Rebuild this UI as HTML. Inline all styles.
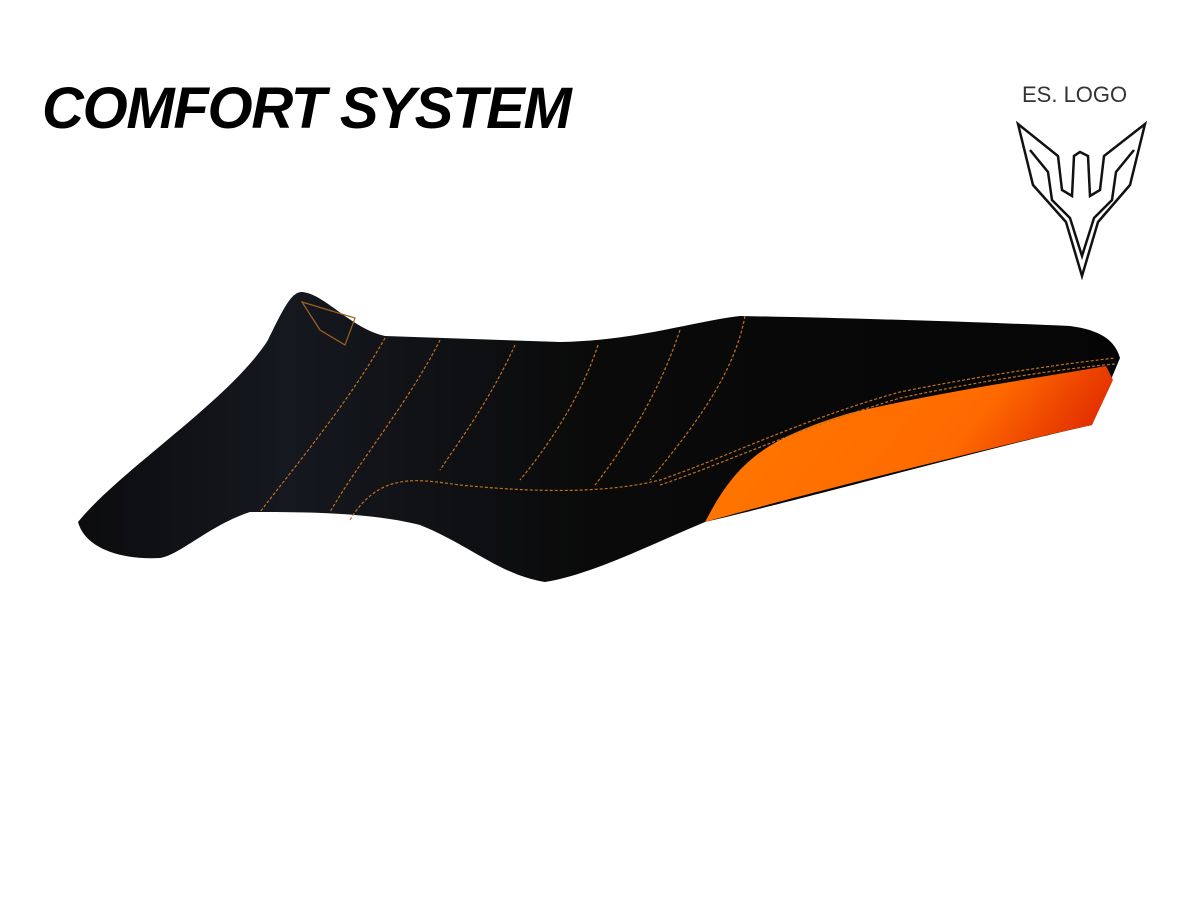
<!DOCTYPE html>
<html><head><meta charset="utf-8"><style>
html,body{margin:0;padding:0;background:#fff;width:1200px;height:900px;overflow:hidden}
</style></head><body>
<svg width="1200" height="900" viewBox="0 0 1200 900" xmlns="http://www.w3.org/2000/svg">
<defs>
<linearGradient id="or" x1="0" y1="0" x2="1" y2="0.3">
<stop offset="0" stop-color="#ff7a00"/><stop offset="0.7" stop-color="#ff6a00"/><stop offset="1" stop-color="#e02a00"/>
</linearGradient>
<linearGradient id="bk" x1="0" y1="0" x2="1" y2="0">
<stop offset="0" stop-color="#0c0c0e"/><stop offset="0.2" stop-color="#15181f"/><stop offset="0.5" stop-color="#0a0a0a"/><stop offset="1" stop-color="#050505"/>
</linearGradient>
</defs>
<text x="42" y="128" font-family="Liberation Sans, sans-serif" font-weight="bold" font-style="italic" font-size="58" fill="#000" letter-spacing="-1.3">COMFORT SYSTEM</text>
<text x="1022" y="102" font-family="Liberation Sans, sans-serif" font-size="22" fill="#333">ES. LOGO</text>
<g fill="none" stroke="#111" stroke-width="2.5" stroke-linejoin="miter">
<path d="M1018 124 L1058 156 L1062 190 L1072 196 L1074 156 L1080 152 L1088 156 L1090 196 L1100 190 L1104 156 L1145 124 L1130 185 L1098 222 L1082 276 L1066 222 L1033 185 Z"/>
<path d="M1030 150 L1048 172 L1052 200 L1070 218 L1082 256 L1094 218 L1112 200 L1116 172 L1134 150"/>
</g>
<path d="M78 522 C120 470 230 400 268 340 C285 305 292 292 302 292 C325 294 350 328 385 336 L560 342 C640 340 690 322 740 316 C850 318 980 322 1070 326 C1100 330 1115 340 1120 358 L1092 425 C1000 445 800 500 705 522 C650 545 590 575 545 582 C500 575 470 545 420 525 C370 512 300 512 250 512 C210 525 180 555 160 558 C120 560 85 548 78 522 Z" fill="url(#bk)"/>
<path d="M705 522 C735 465 760 440 850 413 C950 390 1050 376 1106 366 L1113 380 L1092 425 C1000 445 800 495 705 522 Z" fill="url(#or)"/>
<g fill="none" stroke="#c07020" stroke-width="1.2" stroke-dasharray="3 2">
<path d="M385 338 C350 400 300 460 260 512"/>
<path d="M440 340 C410 400 360 460 330 512"/>
<path d="M515 345 C490 400 460 440 440 470"/>
<path d="M598 345 C580 400 545 450 520 480"/>
<path d="M680 330 C660 390 630 440 595 485"/>
<path d="M745 316 C735 370 700 420 650 480"/>
<path d="M350 520 C380 470 420 480 460 485 C560 495 620 490 660 480 C720 460 800 420 900 392 C1000 372 1080 362 1115 358"/>
<path d="M660 485 C720 465 800 428 900 398 C1000 377 1080 367 1115 364"/>
</g>
<path d="M302 302 L355 318 L345 345 L320 330 Z" fill="none" stroke="#a06020" stroke-width="1.2"/>
</svg>
</body></html>
